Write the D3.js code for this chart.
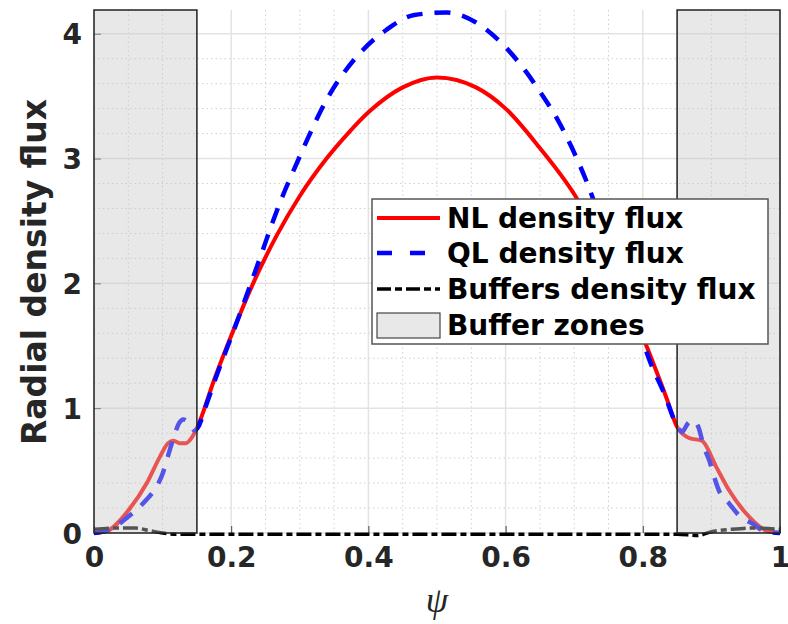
<!DOCTYPE html>
<html>
<head>
<meta charset="utf-8">
<script src="https://cdn.jsdelivr.net/npm/d3@7"></script>
<style>
	body { margin: 0; background: #fff; }
	text { font-family: "DejaVu Sans", sans-serif; font-weight: bold; fill: #262626; }
	.grid-major { stroke: #e3e3e3; stroke-width: 1.5; }
	.grid-minor { stroke: #cfcfcf; stroke-width: 1; stroke-dasharray: 1.5,3; }
</style>
</head>
<body>
<svg class="chart" width="788" height="624"></svg>
<script>
const psiNL = [0, 0.02, 0.05, 0.077, 0.096, 0.108, 0.116, 0.125, 0.134, 0.142, 0.15, 0.176, 0.2, 0.232, 0.266, 0.3, 0.339, 0.37, 0.402, 0.45, 0.5, 0.557, 0.6, 0.649, 0.705, 0.75, 0.806, 0.834, 0.85, 0.868, 0.886, 0.907, 0.926, 0.95, 0.98, 1];
const nlFlux = [0, 0.02, 0.18, 0.40, 0.61, 0.72, 0.74, 0.72, 0.72, 0.76, 0.84, 1.24, 1.58, 2.0, 2.38, 2.70, 3.0, 3.2, 3.38, 3.57, 3.65, 3.57, 3.40, 3.09, 2.67, 2.2, 1.49, 1.09, 0.85, 0.76, 0.74, 0.53, 0.34, 0.16, 0.02, 0];

const psiQL = [0, 0.02, 0.052, 0.077, 0.091, 0.1, 0.108, 0.117, 0.124, 0.13, 0.137, 0.147, 0.152, 0.162, 0.18, 0.198, 0.213, 0.23, 0.245, 0.261, 0.278, 0.297, 0.314, 0.339, 0.362, 0.392, 0.426, 0.467, 0.514, 0.557, 0.595, 0.625, 0.652, 0.676, 0.698, 0.717, 0.75, 0.78, 0.81, 0.831, 0.849, 0.857, 0.866, 0.873, 0.881, 0.889, 0.897, 0.904, 0.911, 0.926, 0.94, 0.96, 0.979, 1];
const qlFlux = [0, 0.02, 0.14, 0.27, 0.37, 0.475, 0.62, 0.78, 0.88, 0.91, 0.89, 0.82, 0.85, 1.0, 1.28, 1.54, 1.76, 2.02, 2.25, 2.5, 2.74, 2.98, 3.19, 3.47, 3.67, 3.87, 4.03, 4.15, 4.17, 4.09, 3.92, 3.73, 3.52, 3.31, 3.07, 2.83, 2.33, 1.9, 1.38, 1.12, 0.87, 0.81, 0.88, 0.905, 0.85, 0.69, 0.58, 0.45, 0.34, 0.236, 0.143, 0.075, 0.01, 0];

const psiBuf = [0, 0.03, 0.06, 0.08, 0.1, 0.12, 0.15, 0.3, 0.5, 0.7, 0.85, 0.88, 0.9, 0.93, 0.96, 1];
const bufFlux = [0.03, 0.04, 0.04, 0.02, 0, -0.01, -0.01, -0.01, -0.01, -0.01, -0.01, -0.02, 0.01, 0.03, 0.04, 0.03];

const bufferZones = [[0, 0.15], [0.85, 1]];
const xTicks = [0, 0.2, 0.4, 0.6, 0.8, 1];
const yTicks = [0, 1, 2, 3, 4];
const legendLabels = ['NL density flux', 'QL density flux', 'Buffers density flux', 'Buffer zones'];

const margin = {top: 10, left: 94, bottom: 91, right: 8};
const width = 788 - margin.left - margin.right;
const height = 624 - margin.top - margin.bottom;

const xScale = d3.scaleLinear().domain([0, 1]).range([0, width]);
const yScale = d3.scaleLinear().domain([0, 4.19]).range([height, 0]);

const svg = d3.select('.chart');
const chart = svg.append('g')
	.attr('transform', `translate(${margin.left}, ${margin.top})`);

// grid
chart.append('g').selectAll('line')
	.data(d3.range(0, 1.0001, 0.05).filter((v, i) => i % 4 !== 0))
	.enter().append('line')
		.attr('class', 'grid-minor')
		.attr('x1', d => xScale(d)).attr('x2', d => xScale(d))
		.attr('y1', 0).attr('y2', height);
chart.append('g').selectAll('line')
	.data(d3.range(0, 4.19, 0.2).filter((v, i) => i % 5 !== 0))
	.enter().append('line')
		.attr('class', 'grid-minor')
		.attr('y1', d => yScale(d)).attr('y2', d => yScale(d))
		.attr('x1', 0).attr('x2', width);
chart.append('g').selectAll('line')
	.data(xTicks)
	.enter().append('line')
		.attr('class', 'grid-major')
		.attr('x1', d => xScale(d)).attr('x2', d => xScale(d))
		.attr('y1', 0).attr('y2', height);
chart.append('g').selectAll('line')
	.data(yTicks)
	.enter().append('line')
		.attr('class', 'grid-major')
		.attr('y1', d => yScale(d)).attr('y2', d => yScale(d))
		.attr('x1', 0).attr('x2', width);

// axes
const xAxis = d3.axisBottom(xScale)
	.tickValues(xTicks)
	.tickSize(-7)
	.tickPadding(14)
	.tickFormat(d3.format('~g'));
const yAxis = d3.axisLeft(yScale)
	.tickValues(yTicks)
	.tickSize(-7)
	.tickPadding(12)
	.tickFormat(d3.format('~g'));

chart.append('g')
	.attr('transform', `translate(0, ${height})`)
	.call(xAxis)
	.call(g => g.select('.domain').remove())
	.call(g => g.selectAll('line').attr('stroke', '#444'))
	.selectAll('text')
		.style('font-size', '28px')
		.attr('dy', '0.71em');

chart.append('g')
	.call(yAxis)
	.call(g => g.select('.domain').remove())
	.call(g => g.selectAll('line').attr('stroke', '#444'))
	.selectAll('text')
		.style('font-size', '28px')
		.attr('dy', '0.36em');

// curves
const toPoints = (xs, ys) => xs.map((x, i) => [x, ys[i]]);
const line = d3.line()
	.x(d => xScale(d[0]))
	.y(d => yScale(d[1]))
	.curve(d3.curveMonotoneX);

chart.append('path')
	.datum(toPoints(psiNL, nlFlux))
	.attr('d', line)
	.attr('fill', 'none')
	.attr('stroke', '#ff0000')
	.attr('stroke-width', 4);

chart.append('path')
	.datum(toPoints(psiQL, qlFlux))
	.attr('d', line)
	.attr('fill', 'none')
	.attr('stroke', '#0000ff')
	.attr('stroke-width', 4.5)
	.attr('stroke-dasharray', '16,12');

chart.append('path')
	.datum(toPoints(psiBuf, bufFlux))
	.attr('d', line)
	.attr('fill', 'none')
	.attr('stroke', '#000')
	.attr('stroke-width', 3.5)
	.attr('stroke-dasharray', '15,4,6,4');

// buffer zones drawn on top, semi transparent
chart.append('g').selectAll('rect')
	.data(bufferZones)
	.enter().append('rect')
		.attr('x', d => xScale(d[0]))
		.attr('width', d => xScale(d[1]) - xScale(d[0]))
		.attr('y', 0)
		.attr('height', height)
		.attr('fill', 'rgb(200,200,200)')
		.attr('fill-opacity', 0.42)
		.attr('stroke', '#222')
		.attr('stroke-width', 1.5);

// labels
svg.append('text')
	.attr('transform', 'translate(46, 272) rotate(-90)')
	.attr('text-anchor', 'middle')
	.style('font-size', '33px')
	.text('Radial density flux');

svg.append('text')
	.attr('x', margin.left + xScale(0.5))
	.attr('y', 612)
	.attr('text-anchor', 'middle')
	.style('font-family', '"Liberation Serif", serif')
	.style('font-style', 'italic')
	.style('font-weight', 'normal')
	.style('font-size', '36px')
	.text('ψ');

// legend
const legend = svg.append('g').attr('transform', 'translate(372, 199)');
legend.append('rect')
	.attr('width', 396)
	.attr('height', 145)
	.attr('fill', '#fff')
	.attr('stroke', '#555')
	.attr('stroke-width', 1.5);

const legendStyles = [
	{stroke: '#ff0000', dash: null, w: 4},
	{stroke: '#0000ff', dash: '15,18', w: 4.5},
	{stroke: '#000', dash: '14,4,7,4', w: 3.5}
];
const rowY = [19, 54, 90, 126];

legendLabels.forEach((label, i) => {
	const row = legend.append('g').attr('transform', `translate(0, ${rowY[i]})`);
	if (i < 3) {
		row.append('line')
			.attr('x1', 5).attr('x2', 68)
			.attr('stroke', legendStyles[i].stroke)
			.attr('stroke-width', legendStyles[i].w)
			.attr('stroke-dasharray', legendStyles[i].dash);
	} else {
		row.append('rect')
			.attr('x', 5).attr('y', -12)
			.attr('width', 63).attr('height', 25)
			.attr('fill', '#e8e8e8')
			.attr('stroke', '#444')
			.attr('stroke-width', 1.2);
	}
	row.append('text')
		.attr('x', 75)
		.attr('dy', '0.36em')
		.style('font-size', '28px')
		.style('fill', '#000')
		.text(label);
});
</script>
</body>
</html>
